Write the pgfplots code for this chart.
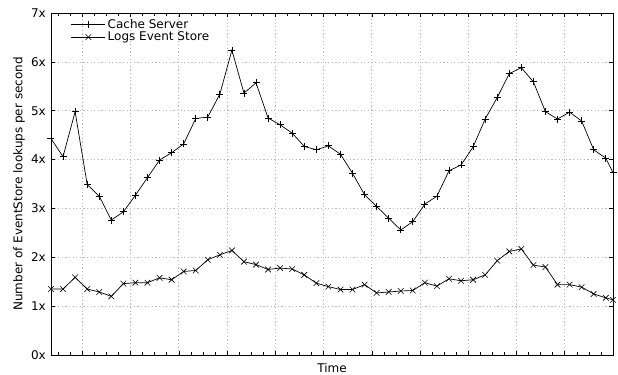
\documentclass[border=0pt]{standalone}
\usepackage{fontspec}
\setmainfont{DejaVu Sans}
\usepackage{pgfplots}
\pgfplotsset{compat=1.18}

\begin{document}
\fontsize{12bp}{14bp}\selectfont
\begin{tikzpicture}
\begin{axis}[
  name=ax,
  scale only axis,
  width=562bp, height=342bp,
  xmin=0, xmax=46.6,
  ymin=0, ymax=7,
  ytick={0,1,...,7},
  yticklabels={0x,1x,2x,3x,4x,5x,6x,7x},
  xtick={2.6,6.6,...,46.6},
  xticklabels={},
  minor xtick={0.6,1.6,...,46.6},
  tick align=inside,
  major tick length=4bp,
  minor tick length=3bp,
  tick style={black, line width=0.6pt},
  xmajorgrids, ymajorgrids,
  major grid style={gray!55, line width=0.7pt, dash pattern=on 1.2bp off 2.4bp},
  axis line style={black, line width=0.8pt},
  xlabel={Time},
  ylabel={Number of EventStore lookups per second},
  xlabel style={yshift=4bp},
  ylabel style={yshift=-2bp},
  yticklabel style={xshift=-1bp},
  legend cell align=left,
  legend style={draw=none, fill=none, at={(0.03,0.995)}, anchor=north west,
    row sep=-2bp, font=\fontsize{12bp}{14bp}\selectfont},
  legend image code/.code={
    \draw[mark repeat=2, mark phase=2, #1]
      plot coordinates {(0bp,0bp) (17bp,0bp) (34bp,0bp)};
  },
]
% Cache Server lookups, one sample per index step
\addplot[black, line width=0.7pt, mark=+, mark size=3.5bp, mark options={line width=0.8pt}]
  coordinates {
  (0,4.43) (1,4.06) (2,4.98) (3,3.49) (4,3.25) (5,2.76) (6,2.93) (7,3.27)
  (8,3.63) (9,3.99) (10,4.14) (11,4.32) (12,4.84) (13,4.87) (14,5.34) (15,6.24)
  (16,5.36) (17,5.57) (18,4.85) (19,4.71) (20,4.54) (21,4.27) (22,4.20) (23,4.28)
  (24,4.11) (25,3.72) (26,3.28) (27,3.04) (28,2.80) (29,2.56) (30,2.73) (31,3.09)
  (32,3.25) (33,3.77) (34,3.89) (35,4.26) (36,4.83) (37,5.27) (38,5.76) (39,5.88)
  (40,5.59) (41,4.98) (42,4.83) (43,4.97) (44,4.79) (45,4.20) (46,4.03) (46.6,3.73)
  };
\addlegendentry{Cache Server}
% Logs Event Store lookups
\addplot[black, line width=0.7pt, mark=x, mark size=4bp, mark options={line width=0.6pt}]
  coordinates {
  (0,1.35) (1,1.35) (2,1.59) (3,1.35) (4,1.29) (5,1.20) (6,1.46) (7,1.48)
  (8,1.48) (9,1.58) (10,1.54) (11,1.71) (12,1.73) (13,1.95) (14,2.05) (15,2.14)
  (16,1.91) (17,1.85) (18,1.75) (19,1.78) (20,1.76) (21,1.64) (22,1.47) (23,1.40)
  (24,1.34) (25,1.34) (26,1.44) (27,1.27) (28,1.29) (29,1.31) (30,1.32) (31,1.48)
  (32,1.41) (33,1.56) (34,1.52) (35,1.54) (36,1.64) (37,1.93) (38,2.12) (39,2.17)
  (40,1.84) (41,1.80) (42,1.44) (43,1.44) (44,1.39) (45,1.25) (46,1.17) (46.6,1.13)
  };
\addlegendentry{Logs Event Store}
\end{axis}
\pgfresetboundingbox
\path ([shift={(-51bp,-20bp)}]ax.south west) rectangle ([shift={(5bp,13bp)}]ax.north east);
\end{tikzpicture}
\end{document}
